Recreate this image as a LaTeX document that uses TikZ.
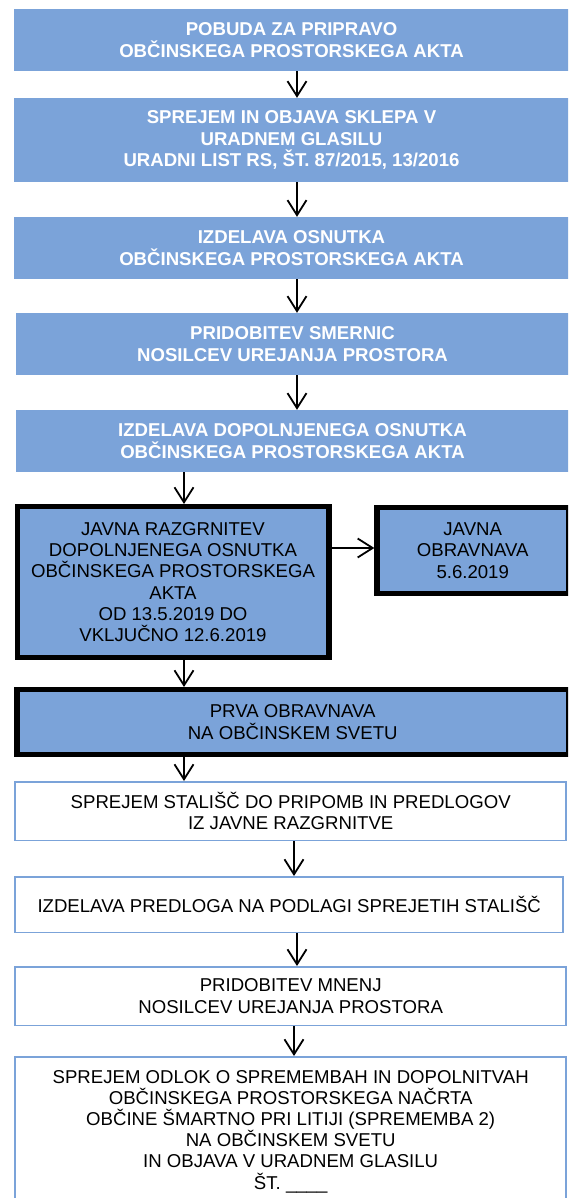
\documentclass[tikz,border=0pt]{standalone}
\usepackage{fontspec}
\setmainfont{Liberation Sans}
\usetikzlibrary{arrows.meta}
\definecolor{boxblue}{RGB}{123,163,217}
\begin{document}
\begin{tikzpicture}[x=1pt,y=-1pt,
  base/.style={rectangle, align=center, inner sep=0pt, font=\fontsize{18.6}{21.2}\selectfont},
  bluebox/.style={base, fill=boxblue, text=white, font=\fontsize{18.6}{21.2}\selectfont\bfseries},
  thickbox/.style={base, fill=boxblue, draw=black, line width=5.4pt},
  whitebox/.style={base, fill=white, draw=boxblue, line width=1.5pt},
  arr/.style={draw=black, line width=1.8pt, line join=miter, -{Straight Barb[length=15pt,width=19pt]}}]
\useasboundingbox (0,0) rectangle (568,1198);
\clip (0,0) rectangle (568,1198);

\node[bluebox, minimum width=555pt, minimum height=62pt] (b1) at (291.5,40)
  {POBUDA ZA PRIPRAVO\\OBČINSKEGA PROSTORSKEGA AKTA};
\node[bluebox, minimum width=555pt, minimum height=84pt] (b2) at (291.5,140)
  {SPREJEM IN OBJAVA SKLEPA V\\URADNEM GLASILU\\URADNI LIST RS, ŠT. 87/2015, 13/2016};
\node[bluebox, minimum width=555pt, minimum height=62pt] (b3) at (291.5,248)
  {IZDELAVA OSNUTKA\\OBČINSKEGA PROSTORSKEGA AKTA};
\node[bluebox, minimum width=553pt, minimum height=62pt] (b4) at (292.5,344)
  {PRIDOBITEV SMERNIC\\NOSILCEV UREJANJA PROSTORA};
\node[bluebox, minimum width=553pt, minimum height=62pt] (b5) at (292.5,441)
  {IZDELAVA DOPOLNJENEGA OSNUTKA\\OBČINSKEGA PROSTORSKEGA AKTA};

\node[thickbox, minimum width=311.6pt, minimum height=150.6pt] (b6) at (173,582)
  {JAVNA RAZGRNITEV\\DOPOLNJENEGA OSNUTKA\\OBČINSKEGA PROSTORSKEGA\\AKTA\\OD 13.5.2019 DO\\VKLJUČNO 12.6.2019};
\node[thickbox, minimum width=191.3pt, minimum height=85.6pt] (b7) at (472.7,550.5)
  {JAVNA\\OBRAVNAVA\\5.6.2019};
\node[thickbox, minimum width=551.1pt, minimum height=64.6pt] (b8) at (292.7,722)
  {PRVA OBRAVNAVA\\NA OBČINSKEM SVETU};

\node[whitebox, minimum width=551pt, minimum height=58.5pt] (b9) at (290.7,811)
  {SPREJEM STALIŠČ DO PRIPOMB IN PREDLOGOV\\IZ JAVNE RAZGRNITVE};
\node[whitebox, minimum width=548pt, minimum height=55.5pt] (b10) at (289.2,904.5)
  {IZDELAVA PREDLOGA NA PODLAGI SPREJETIH STALIŠČ};
\node[whitebox, minimum width=551pt, minimum height=58.5pt] (b11) at (290.7,996)
  {PRIDOBITEV MNENJ\\NOSILCEV UREJANJA PROSTORA};
\node[whitebox, minimum width=551pt, minimum height=149.5pt] (b12) at (290.7,1131.5)
  {SPREJEM ODLOK O SPREMEMBAH IN DOPOLNITVAH\\OBČINSKEGA PROSTORSKEGA NAČRTA\\OBČINE ŠMARTNO PRI LITIJI (SPREMEMBA 2)\\NA OBČINSKEM SVETU\\IN OBJAVA V URADNEM GLASILU\\ŠT. \_\_\_\_};

\coordinate (xa) at (297,0);
\coordinate (xb) at (184,0);
\coordinate (xc) at (294,0);
\coordinate (ya) at (0,548);

\draw[arr] (b1.south -| xa) -- (b2.north -| xa);
\draw[arr] (b2.south -| xa) -- (b3.north -| xa);
\draw[arr] (b3.south -| xa) -- (b4.north -| xa);
\draw[arr] (b4.south -| xa) -- (b5.north -| xa);
\draw[arr] (b5.south -| xb) -- (b6.north -| xb);
\draw[arr] (b6.east |- ya) -- (b7.west |- ya);
\draw[arr] (b6.south -| xb) -- (b8.north -| xb);
\draw[arr] (b8.south -| xb) -- (b9.north -| xb);
\draw[arr] (b9.south -| xc) -- (b10.north -| xc);
\draw[arr] (b10.south -| xa) -- (b11.north -| xa);
\draw[arr] (b11.south -| xc) -- (b12.north -| xc);
\end{tikzpicture}
\end{document}
